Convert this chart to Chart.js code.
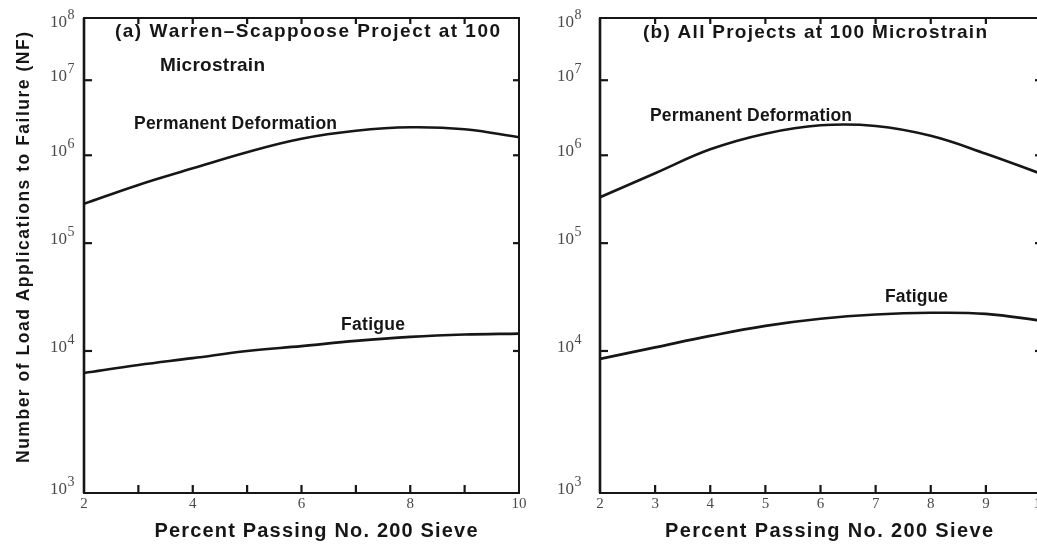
<!DOCTYPE html>
<html>
<head>
<meta charset="utf-8">
<script src="https://cdn.jsdelivr.net/npm/chart.js@4"></script>
<style>
  html, body { margin: 0; padding: 0; background: #fff; overflow: hidden; }
  #wrap { position: relative; width: 1037px; height: 544px; overflow: hidden; background: #fff; }
  canvas { position: absolute; top: 0; }
  #panelA { left: 0; }
  #panelB { left: 530px; }
</style>
</head>
<body>
<div id="wrap">
  <canvas id="panelA" width="530" height="544"></canvas>
  <canvas id="panelB" width="530" height="544"></canvas>
</div>
<script>
// Percent passing No. 200 sieve
const sievePercent = [2, 3, 4, 5, 6, 7, 8, 9, 10];

// (a) Warren–Scappoose project at 100 microstrain, load applications to failure
const warrenPermDef  = [2.8e5, 4.6e5, 7.1e5, 1.10e6, 1.66e6, 2.12e6, 2.36e6, 2.22e6, 1.74e6];
const warrenFatigue  = [7.0e3, 7.96e3, 8.9e3, 1.0e4, 1.11e4, 1.24e4, 1.35e4, 1.42e4, 1.45e4];

// (b) All projects at 100 microstrain
const allPermDef = [3.33e5, 6.24e5, 1.20e6, 1.94e6, 2.51e6, 2.46e6, 1.82e6, 1.05e6, 6.17e5];
const allFatigue = [8.8e3, 1.08e4, 1.38e4, 1.71e4, 1.99e4, 2.18e4, 2.26e4, 2.21e4, 1.91e4];

// Tick labels
const xTickLabelsA = [2, 4, 6, 8, 10];
const xTickLabelsB = [2, 3, 4, 5, 6, 7, 8, 9, 10];
const xTickMarks   = [2, 3, 4, 5, 6, 7, 8, 9, 10];
const yExponents   = [3, 4, 5, 6, 7, 8];

// The printed log axis does not give every decade the same height:
// cumulative fraction of the axis reached at 10^3 ... 10^8.
const decadeStops = [0, 0.299, 0.526, 0.711, 0.869, 1];

// Logarithmic scale with uneven decade bands
class DecadeBandScale extends Chart.LogarithmicScale {
  static id = 'decadeBand';
  static defaults = Chart.LogarithmicScale.defaults;

  _decimalOf(value) {
    const lv = Math.log10(value) - Math.log10(this.min);
    const n = decadeStops.length - 1;
    const i = Math.max(0, Math.min(n - 1, Math.floor(lv)));
    return decadeStops[i] + (lv - i) * (decadeStops[i + 1] - decadeStops[i]);
  }
  getPixelForValue(value) {
    if (value === undefined || value === null || isNaN(value) || value <= 0) {
      value = this.min;
    }
    return this.getPixelForDecimal(this._decimalOf(value));
  }
  getValueForPixel(pixel) {
    const d = this.getDecimalForPixel(pixel);
    const n = decadeStops.length - 1;
    let i = 0;
    while (i < n - 1 && d > decadeStops[i + 1]) i++;
    const lv = i + (d - decadeStops[i]) / (decadeStops[i + 1] - decadeStops[i]);
    return Math.pow(10, Math.log10(this.min) + lv);
  }
}
Chart.register(DecadeBandScale);

const INK = '#161616';
const GREY = '#4a4a4a';
const SANS = '"Liberation Sans", Arial, sans-serif';
const SERIF = '"Liberation Serif", "Times New Roman", serif';

// Draw text letter by letter so it spans a given width
function spacedText(ctx, text, x, y, width) {
  const chars = [...text];
  const widths = chars.map(c => ctx.measureText(c).width);
  const natural = widths.reduce((a, b) => a + b, 0);
  const gap = chars.length > 1 ? (width - natural) / (chars.length - 1) : 0;
  let cx = x;
  chars.forEach((c, i) => { ctx.fillText(c, cx, y); cx += widths[i] + gap; });
}

function panelDecor(cfg) {
  return {
    id: 'panelDecor',
    afterDraw(chart) {
      const ctx = chart.ctx;
      const { left, right, top, bottom } = chart.chartArea;
      const xs = chart.scales.x, ys = chart.scales.y;
      ctx.save();

      // frame
      ctx.strokeStyle = INK;
      ctx.lineWidth = 2;
      ctx.strokeRect(left, top, right - left, bottom - top);
      ctx.lineWidth = 2.6;
      ctx.beginPath(); ctx.moveTo(left, top); ctx.lineTo(left, bottom); ctx.stroke();

      // inward tick marks on all four sides
      ctx.lineWidth = 2.2;
      xTickMarks.forEach(v => {
        const px = xs.getPixelForValue(v);
        if (px <= left + 1 || px >= right - 1) return;
        ctx.beginPath(); ctx.moveTo(px, bottom); ctx.lineTo(px, bottom - 8); ctx.stroke();
        ctx.beginPath(); ctx.moveTo(px, top); ctx.lineTo(px, top + 6); ctx.stroke();
      });
      yExponents.forEach(e => {
        const py = ys.getPixelForValue(Math.pow(10, e));
        if (py <= top + 1 || py >= bottom - 1) return;
        ctx.beginPath(); ctx.moveTo(left, py); ctx.lineTo(left + 8, py); ctx.stroke();
        ctx.beginPath(); ctx.moveTo(right, py); ctx.lineTo(right - 6, py); ctx.stroke();
      });

      // x tick labels
      ctx.fillStyle = GREY;
      ctx.font = '15px ' + SERIF;
      ctx.textAlign = 'center';
      ctx.textBaseline = 'alphabetic';
      cfg.xLabels.forEach(v => {
        ctx.fillText(String(v), xs.getPixelForValue(v), 508);
      });

      // y tick labels: 10 with a raised exponent
      yExponents.forEach(e => {
        const py = ys.getPixelForValue(Math.pow(10, e));
        const base = Math.max(py + 1, 27);
        ctx.textAlign = 'right';
        ctx.font = '17px ' + SERIF;
        ctx.fillText('10', cfg.yLabelRight, base);
        ctx.textAlign = 'left';
        ctx.font = '14px ' + SERIF;
        ctx.fillText(String(e), cfg.yLabelRight + 0.5, base - 8);
      });

      // axis titles
      ctx.fillStyle = INK;
      ctx.textAlign = 'left';
      ctx.font = 'bold 20px ' + SANS;
      spacedText(ctx, cfg.xTitle.text, cfg.xTitle.cx - cfg.xTitle.width / 2, cfg.xTitle.y, cfg.xTitle.width);

      if (cfg.yTitle) {
        ctx.save();
        ctx.translate(cfg.yTitle.x, cfg.yTitle.bottom);
        ctx.rotate(-Math.PI / 2);
        ctx.font = 'bold 17.5px ' + SANS;
        spacedText(ctx, cfg.yTitle.text, 0, 0, cfg.yTitle.length);
        ctx.restore();
      }

      // panel notes and curve labels
      cfg.notes.forEach(n => {
        ctx.font = 'bold ' + n.size + 'px ' + SANS;
        spacedText(ctx, n.text, n.x, n.y, n.width);
      });

      ctx.restore();
    }
  };
}

function makePanel(canvasId, permDef, fatigue, padding, cfg) {
  const curve = (values) => sievePercent.map((x, i) => ({ x, y: values[i] }));
  return new Chart(document.getElementById(canvasId), {
    type: 'line',
    data: {
      datasets: [
        { label: 'Permanent Deformation', data: curve(permDef) },
        { label: 'Fatigue', data: curve(fatigue) }
      ]
    },
    options: {
      responsive: false,
      animation: false,
      devicePixelRatio: 1,
      layout: { padding },
      elements: {
        line: { borderColor: INK, borderWidth: 2.6, tension: 0.4, fill: false },
        point: { radius: 0, hoverRadius: 0 }
      },
      plugins: { legend: { display: false }, tooltip: { enabled: false } },
      scales: {
        x: { type: 'linear', min: 2, max: 10, display: false },
        y: { type: 'decadeBand', min: 1e3, max: 1e8, display: false }
      }
    },
    plugins: [panelDecor(cfg)]
  });
}

makePanel('panelA', warrenPermDef, warrenFatigue,
  { left: 84, top: 18, right: 11, bottom: 51 },
  {
    xLabels: xTickLabelsA,
    yLabelRight: 67,
    xTitle: { text: 'Percent Passing No. 200 Sieve', cx: 316, y: 537, width: 323 },
    yTitle: { text: 'Number of Load Applications to Failure (NF)', x: 29, bottom: 463, length: 431 },
    notes: [
      { text: '(a) Warren–Scappoose Project at 100', x: 115, y: 37, width: 385, size: 19 },
      { text: 'Microstrain', x: 160, y: 71, width: 105, size: 19 },
      { text: 'Permanent Deformation', x: 134, y: 129, width: 203, size: 17.5 },
      { text: 'Fatigue', x: 341, y: 330, width: 64, size: 17.5 }
    ]
  });

makePanel('panelB', allPermDef, allFatigue,
  { left: 70, top: 18, right: 19, bottom: 51 },
  {
    xLabels: xTickLabelsB,
    yLabelRight: 44,
    xTitle: { text: 'Percent Passing No. 200 Sieve', cx: 299, y: 537, width: 328 },
    yTitle: null,
    notes: [
      { text: '(b) All Projects at 100 Microstrain', x: 113, y: 38, width: 344, size: 19 },
      { text: 'Permanent Deformation', x: 120, y: 121, width: 202, size: 17.5 },
      { text: 'Fatigue', x: 355, y: 302, width: 63, size: 17.5 }
    ]
  });
</script>
</body>
</html>
